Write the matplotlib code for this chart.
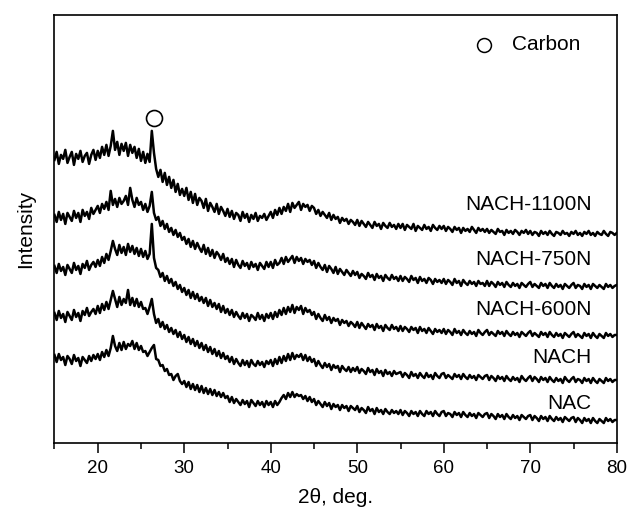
import numpy as np
import matplotlib
matplotlib.use('Agg')
import matplotlib.pyplot as plt

plt.rcParams['font.family'] = ['Liberation Sans', 'DejaVu Sans']

# 2theta sampled every 0.25 deg from 15 to 80
two_theta = np.linspace(15, 80, 261)

# intensities (arbitrary units, stacked offsets already included)
nach_1100n = [
    283, 291, 279, 288, 284, 293, 280, 286, 291, 278, 289, 284, 292, 281, 287, 290, 279, 288, 293, 283,
    292, 285, 296, 288, 298, 287, 297, 312, 293, 301, 288, 299, 292, 300, 287, 298, 290, 296, 285, 294,
    282, 291, 280, 289, 281, 312, 290, 274, 266, 273, 261, 270, 258, 266, 255, 263, 251, 259, 248, 254,
    247, 255, 243, 251, 240, 249, 238, 245, 242, 235, 244, 232, 240, 236, 231, 239, 229, 236, 232, 227,
    234, 226, 232, 224, 230, 228, 222, 231, 225, 229, 221, 228, 224, 230, 222, 227, 225, 229, 223, 227,
    231, 225, 233, 228, 235, 229, 236, 232, 239, 231, 240, 235, 238, 241, 233, 239, 236, 238, 232, 237,
    235, 229, 233, 227, 231, 228, 225, 230, 223, 228, 224, 226, 220, 225, 222, 224, 219, 223, 221, 218,
    223, 217, 222, 219, 216, 221, 218, 215, 221, 217, 219, 214, 220, 217, 215, 220, 216, 218, 214, 219,
    215, 219, 213, 218, 216, 214, 219, 212, 217, 215, 213, 218, 214, 216, 212, 218, 215, 213, 217, 214,
    217, 212, 216, 214, 211, 216, 213, 215, 210, 215, 212, 214, 211, 216, 213, 210, 215, 212, 214, 211,
    214, 210, 213, 211, 209, 214, 211, 212, 208, 213, 210, 212, 209, 213, 211, 208, 212, 210, 213, 209,
    212, 208, 211, 210, 207, 212, 209, 211, 208, 212, 209, 207, 211, 210, 208, 212, 209, 210, 207, 211,
    209, 212, 208, 210, 207, 211, 209, 212, 208, 210, 207, 211, 209, 208, 212, 209, 207, 211, 210, 208,
    210,
]

nach_750n = [
    228, 221, 231, 223, 229, 219, 230, 226, 222, 232, 225, 230, 221, 233, 227, 231, 224, 235, 229, 233,
    237, 230, 239, 234, 241, 233, 252, 238, 244, 236, 245, 239, 242, 247, 238, 255, 243, 236, 245, 238,
    241, 233, 239, 231, 237, 251, 230, 223, 226, 217, 222, 214, 219, 211, 215, 208, 213, 206, 210, 203,
    206, 199, 204, 196, 202, 194, 200, 195, 191, 198, 189, 195, 187, 193, 185, 191, 188, 183, 189, 181,
    185, 179, 184, 176, 183, 178, 175, 182, 177, 180, 174, 181, 176, 179, 173, 180, 177, 174, 181, 176,
    181, 175, 183, 178, 180, 185, 179, 186, 181, 184, 187, 180, 186, 182, 185, 179, 184, 181, 183, 178,
    182, 175, 180, 176, 173, 178, 171, 177, 174, 170, 176, 169, 174, 171, 168, 173, 170, 167, 172, 168,
    171, 165, 169, 167, 164, 170, 166, 168, 163, 169, 165, 167, 162, 168, 165, 163, 168, 164, 166, 162,
    167, 162, 166, 164, 161, 167, 163, 165, 160, 166, 162, 164, 160, 165, 163, 159, 164, 161, 163, 160,
    164, 159, 163, 161, 158, 164, 160, 162, 157, 163, 160, 158, 162, 159, 161, 157, 162, 159, 160, 157,
    162, 157, 161, 159, 156, 161, 158, 160, 156, 161, 158, 156, 160, 157, 159, 155, 160, 158, 156, 159,
    161, 156, 159, 157, 155, 160, 157, 159, 155, 160, 157, 155, 159, 156, 158, 154, 159, 157, 155, 158,
    160, 155, 158, 157, 154, 159, 156, 158, 154, 159, 157, 155, 158, 156, 154, 159, 156, 158, 155, 157,
    158,
]

nach_600n = [
    177, 170, 179, 172, 176, 168, 178, 174, 170, 180, 173, 177, 169, 179, 175, 182, 173, 178, 181, 176,
    183, 177, 186, 180, 189, 183, 192, 202, 194, 188, 198, 190, 196, 188, 199, 191, 197, 189, 195, 187,
    194, 186, 192, 184, 189, 219, 185, 175, 173, 166, 170, 162, 167, 160, 164, 157, 161, 154, 158, 151,
    155, 148, 153, 145, 151, 144, 149, 142, 146, 140, 145, 137, 143, 136, 140, 134, 139, 131, 137, 130,
    134, 128, 133, 126, 131, 127, 124, 130, 125, 129, 122, 128, 126, 123, 130, 124, 128, 122, 129, 125,
    130, 124, 131, 126, 133, 128, 135, 129, 136, 131, 138, 130, 136, 133, 137, 129, 135, 131, 133, 128,
    131, 124, 129, 125, 122, 128, 123, 126, 120, 125, 122, 124, 118, 123, 120, 122, 117, 121, 119, 116,
    121, 115, 120, 117, 114, 119, 116, 118, 113, 119, 115, 117, 112, 118, 115, 113, 118, 114, 116, 112,
    117, 112, 116, 114, 111, 116, 113, 115, 110, 116, 112, 114, 110, 115, 112, 109, 114, 111, 113, 110,
    114, 109, 113, 111, 108, 114, 110, 112, 108, 113, 110, 108, 112, 109, 111, 107, 113, 110, 108, 111,
    113, 108, 111, 109, 107, 112, 109, 111, 107, 112, 109, 107, 111, 108, 110, 106, 111, 109, 107, 110,
    112, 107, 110, 108, 106, 111, 108, 110, 106, 111, 108, 106, 110, 107, 109, 105, 110, 108, 106, 109,
    111, 106, 109, 107, 105, 110, 107, 109, 105, 110, 107, 105, 109, 107, 105, 110, 107, 109, 106, 108,
    108,
]

nach = [
    130, 123, 132, 125, 129, 121, 131, 127, 123, 133, 126, 130, 122, 132, 128, 135, 127, 131, 134, 129,
    137, 130, 139, 133, 141, 134, 143, 152, 144, 136, 146, 138, 144, 140, 153, 138, 145, 137, 144, 136,
    141, 134, 135, 129, 136, 144, 129, 120, 124, 116, 121, 114, 118, 111, 115, 109, 113, 106, 111, 104,
    108, 101, 106, 99, 104, 97, 102, 95, 100, 93, 98, 91, 96, 89, 94, 87, 92, 85, 90, 84,
    87, 81, 86, 79, 84, 80, 77, 83, 78, 82, 76, 83, 79, 77, 82, 78, 81, 76, 82, 79,
    83, 77, 84, 79, 86, 80, 87, 82, 89, 83, 90, 84, 88, 86, 89, 83, 88, 82, 86, 81,
    84, 77, 82, 78, 75, 80, 76, 79, 73, 78, 75, 77, 71, 77, 74, 72, 76, 71, 75, 72,
    76, 70, 74, 72, 69, 75, 71, 73, 68, 74, 70, 72, 67, 73, 69, 71, 67, 72, 69, 70,
    71, 66, 70, 68, 65, 71, 67, 69, 65, 70, 67, 65, 70, 66, 68, 64, 70, 67, 65, 69,
    70, 65, 68, 66, 64, 69, 66, 68, 64, 69, 66, 64, 68, 65, 67, 63, 68, 66, 64, 67,
    68, 63, 67, 65, 62, 67, 64, 66, 62, 67, 64, 62, 66, 63, 65, 61, 67, 64, 62, 65,
    67, 62, 66, 64, 61, 66, 63, 65, 61, 66, 63, 61, 65, 62, 64, 60, 66, 63, 61, 64,
    66, 61, 64, 63, 60, 65, 62, 64, 60, 65, 62, 60, 64, 62, 60, 65, 62, 64, 61, 63,
    63,
]

nac = [
    88, 81, 89, 83, 86, 78, 87, 84, 79, 88, 82, 85, 77, 86, 83, 80, 87, 82, 88, 84,
    89, 83, 91, 86, 93, 87, 95, 107, 97, 92, 100, 93, 101, 94, 99, 97, 102, 94, 100, 93,
    97, 91, 92, 87, 91, 95, 98, 84, 83, 77, 78, 72, 74, 68, 69, 63, 67, 69, 62, 59,
    62, 56, 61, 54, 59, 53, 58, 51, 57, 50, 55, 49, 54, 48, 53, 47, 51, 46, 50, 45,
    47, 41, 46, 40, 44, 41, 38, 43, 39, 42, 36, 43, 40, 37, 42, 38, 41, 36, 42, 38,
    41, 36, 42, 38, 41, 45, 48, 44, 50, 46, 51, 46, 49, 47, 48, 44, 47, 42, 46, 41,
    44, 38, 42, 39, 36, 41, 37, 40, 34, 39, 36, 38, 33, 38, 35, 37, 32, 37, 35, 33,
    37, 31, 35, 33, 30, 36, 32, 34, 29, 35, 31, 33, 29, 34, 31, 29, 33, 30, 32, 29,
    33, 28, 32, 30, 27, 32, 29, 31, 27, 32, 29, 27, 32, 29, 31, 27, 32, 29, 27, 31,
    32, 27, 30, 29, 26, 31, 28, 30, 26, 31, 28, 26, 30, 27, 29, 25, 30, 28, 26, 29,
    30, 25, 29, 27, 24, 29, 26, 28, 24, 29, 26, 24, 28, 25, 27, 23, 28, 26, 24, 27,
    28, 23, 27, 25, 22, 27, 24, 26, 22, 27, 24, 22, 26, 23, 25, 21, 26, 24, 22, 25,
    26, 21, 25, 23, 20, 25, 22, 24, 20, 25, 22, 20, 24, 22, 20, 25, 22, 24, 21, 23,
    23,
]

series = [nach_1100n, nach_750n, nach_600n, nach, nac]
labels = ['NACH-1100N', 'NACH-750N', 'NACH-600N', 'NACH', 'NAC']
label_y = [238, 183, 133, 85, 40]

fig = plt.figure(figsize=(6.3, 5.11), dpi=100)
ax = fig.add_axes([0.0865, 0.133, 0.8925, 0.838])

for ys, name, ly in zip(series, labels, label_y):
    ax.plot(two_theta, ys, color='black', lw=1.8)
    ax.text(77.1, ly, name, ha='right', va='center', fontsize=15)

# carbon peak marker and key
ax.plot([26.5], [325], 'o', ms=11.5, mfc='white', mec='black', mew=1.2)
ax.plot([64.7], [398], 'o', ms=10, mfc='white', mec='black', mew=1.1)
ax.text(67.85, 398, 'Carbon', ha='left', va='center', fontsize=15)

ax.set_xlim(15, 80)
ax.set_ylim(0, 428)
ax.set_xticks([20, 30, 40, 50, 60, 70, 80])
ax.set_xticks([15, 25, 35, 45, 55, 65, 75], minor=True)
ax.set_yticks([])
ax.tick_params(axis='x', which='major', direction='out', length=7, width=1.1,
               labelsize=13.5, pad=5, top=False)
ax.tick_params(axis='x', which='minor', direction='out', length=4.5, width=1.1, top=False)
for sp in ax.spines.values():
    sp.set_linewidth(1.2)

ax.set_xlabel('2θ, deg.', fontsize=15, labelpad=8)
ax.set_ylabel('Intensity', fontsize=15, labelpad=14)

fig.savefig('out.png', dpi=100)
